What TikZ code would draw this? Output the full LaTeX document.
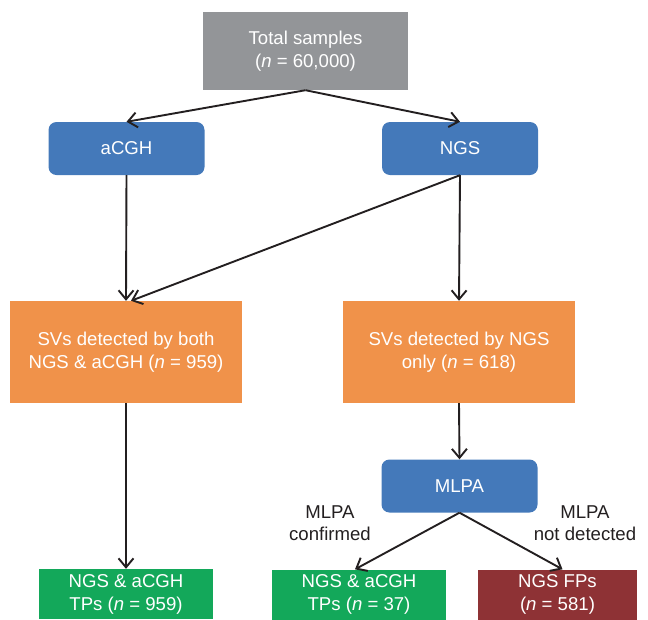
\documentclass[tikz,border=0pt]{standalone}
\usepackage{fontspec}
\setmainfont{Liberation Sans}
\usetikzlibrary{calc,arrows.meta}
\tikzset{>={Straight Barb[length=9pt,width=15pt]}}
\definecolor{boxgrey}{HTML}{939598}
\definecolor{boxblue}{HTML}{4479BA}
\definecolor{boxorange}{HTML}{F0924A}
\definecolor{boxgreen}{HTML}{13A85A}
\definecolor{boxred}{HTML}{8E3235}
\definecolor{ink}{HTML}{231F20}
\newcommand*{\nval}[1]{(\textit{n} = #1)}
\tikzset{
  box/.style={rectangle,text=white,align=center,inner sep=0pt,
    font=\fontsize{18.6}{23}\selectfont},
  greybox/.style={box,fill=boxgrey,minimum width=205,minimum height=78},
  bluebox/.style={box,fill=boxblue,rounded corners=8pt,
    minimum width=156,minimum height=53},
  orangebox/.style={box,fill=boxorange,minimum width=232,minimum height=102},
  greenbox/.style={box,fill=boxgreen,minimum width=174,minimum height=50},
  redbox/.style={box,fill=boxred,minimum width=159,minimum height=50},
  arr/.style={->,draw=ink,line width=1.9pt},
  lbl/.style={text=ink,align=center,inner sep=0pt,
    font=\fontsize{18.6}{22}\selectfont}
}

\begin{document}
\begin{tikzpicture}[x=1pt,y=-1pt]
\useasboundingbox (0,0) rectangle (648,619);

% Top
\node[greybox] (total) at (305.5,51) {Total samples\\\nval{60,000}};

% Methods
\node[bluebox] (acgh) at (126.5,148.5) {aCGH};
\node[bluebox] (ngs) at (460,148.5) {NGS};

% Detected SVs
\node[orangebox] (both) at (126,352)
  {SVs detected by both\\NGS \& aCGH \nval{959}};
\node[orangebox] (ngsonly) at (459,352)
  {SVs detected by NGS\\only \nval{618}};

% Validation
\node[bluebox] (mlpa) at (459.5,486) {MLPA};

% Results
\node[greenbox] (tpboth) at (126,594) {NGS \& aCGH\\TPs \nval{959}};
\node[greenbox] (tpmlpa) at (359,594.5) {NGS \& aCGH\\TPs \nval{37}};
\node[redbox] (fps) at (557.5,594.5) {NGS FPs\\\nval{581}};

% Branch labels
\node[lbl] (conf) at (330,523.5) {MLPA\\confirmed};
\node[lbl] (notdet) at (585,523.5) {MLPA\\not detected};

\draw[arr] (total.south) -- (acgh.north);
\draw[arr] (total.south) -- (ngs.north);
\draw[arr] (acgh.south) -- (both.north);
\draw[arr] (ngs.south) -- ($(both.north)+(5,0)$);
\draw[arr] (ngs.south) -- (ngsonly.north);
\draw[arr] (both.south) -- (tpboth.north);
\draw[arr] (ngsonly.south) -- (mlpa.north);
\draw[arr] (mlpa.south) -- ($(tpmlpa.north)+(-4,0)$);
\draw[arr] (mlpa.south) -- ($(fps.north)+(5,0)$);
\end{tikzpicture}
\end{document}
